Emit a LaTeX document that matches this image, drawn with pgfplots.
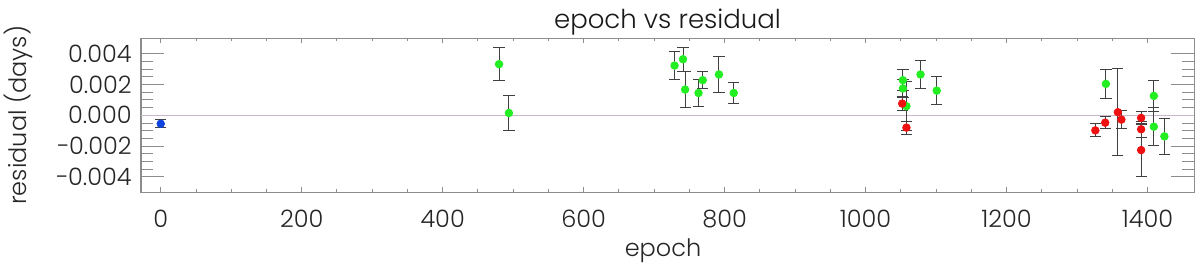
\documentclass[border=0pt]{standalone}
\usepackage{fontspec}
\IfFontExistsTF{Poppins Light}{\setmainfont{Poppins Light}}{\setmainfont{Poppins}}
\usepackage{pgfplots}
\usepackage{pgfplotstable}
\pgfplotsset{compat=1.18}
\definecolor{framegray}{HTML}{8C8C8C}
\definecolor{zeroline}{HTML}{C8B8C8}
\definecolor{errgray}{HTML}{404040}
\definecolor{ptgreen}{HTML}{22EE22}
\definecolor{ptred}{HTML}{EE1111}
\definecolor{ptblue}{HTML}{1144DD}

\pgfplotstableread{
x y e
0 -0.00055 0.00027
}\blue
\pgfplotstableread{
x y e
480 0.00332 0.00106
494 0.00015 0.00114
729 0.00323 0.00089
741 0.00364 0.00078
744 0.00167 0.00116
763 0.00145 0.00089
769 0.00228 0.00057
792 0.00265 0.00117
813 0.00145 0.00067
1053 0.00228 0.00070
1053 0.00174 0.00060
1058 0.00059 0.00158
1078 0.00265 0.00089
1101 0.00160 0.00092
1341 0.00204 0.00095
1409 0.00126 0.00100
1409 -0.00074 0.00124
1424 -0.00137 0.00118
}\green
\pgfplotstableread{
x y e
1052 0.00076 0.00043
1058 -0.00080 0.00042
1326 -0.00098 0.00042
1340 -0.00048 0.00039
1358 0.00020 0.00284
1363 -0.00028 0.00059
1391 -0.00017 0.00040
1391 -0.00091 0.00050
1391 -0.00226 0.00171
}\red

\begin{document}
\begin{tikzpicture}
\path[use as bounding box] (-70.5pt,-36.85pt) rectangle (529.5pt,96.15pt);
\pgfplotsset{
  base/.style={
    scale only axis, width=526.5pt, height=77pt,
    at={(0pt,0pt)}, anchor=south west,
    xmin=-28, xmax=1466, ymin=-0.005, ymax=0.005,
    axis line style={draw=framegray, line width=0.5pt},
    tick style={draw=framegray, line width=0.45pt},
    tick align=inside,
    scaled y ticks=false,
  },
  errs/.style={
    error bars/y dir=both, error bars/y explicit,
    error bars/error bar style={draw=errgray, line width=0.5pt},
    error bars/error mark options={rotate=90, mark size=2.8pt, draw=errgray, line width=0.5pt},
  },
}
% y ticks (long) only
\begin{axis}[base,
  xtick=\empty,
  ytick={-0.004,-0.002,0,0.002,0.004},
  minor y tick num=3,
  major tick length=11.5pt, minor tick length=6pt,
  yticklabels={},
]
\end{axis}
% main axis with data
\begin{axis}[base,
  xtick={0,200,400,600,800,1000,1200,1400},
  xticklabels={0,200,400,600,800,1000,1200,1400},
  minor x tick num=3,
  major tick length=2.5pt, minor tick length=1.5pt,
  ytick={-0.004,-0.002,0,0.002,0.004},
  yticklabels={−0.004,−0.002,0.000,0.002,0.004},
  ytick style={draw=none},
  minor y tick num=0,
  xticklabel style={anchor=base, inner sep=0pt, yshift=-17.85pt, font=\fontsize{12}{12}\selectfont, text=black!85},
  yticklabel style={anchor=east, inner sep=0pt, xshift=-4.5pt, font=\fontsize{12}{12}\selectfont, text=black!85},
]
\addplot[draw=zeroline, line width=0.5pt, no marks, forget plot] coordinates {(-28,0) (1466,0)};
\addplot[only marks, mark=*, mark size=1.9pt, mark options={fill=ptgreen, draw=ptgreen}, errs]
  table[x=x, y=y, y error=e] {\green};
\addplot[only marks, mark=*, mark size=1.9pt, mark options={fill=ptred, draw=ptred}, errs]
  table[x=x, y=y, y error=e] {\red};
\addplot[only marks, mark=*, mark size=1.9pt, mark options={fill=ptblue, draw=ptblue}, errs]
  table[x=x, y=y, y error=e] {\blue};
\end{axis}
\node[anchor=base, font=\fontsize{13}{13}\selectfont, text=black!90] at (263.25pt,81.65pt) {epoch vs residual};
\node[anchor=base, font=\fontsize{12}{12}\selectfont, text=black!85] at (261pt,-32.35pt) {epoch};
\node[anchor=base, rotate=90, font=\fontsize{12}{12}\selectfont, text=black!85] at (-57pt,38.5pt) {residual (days)};
\end{tikzpicture}
\end{document}
